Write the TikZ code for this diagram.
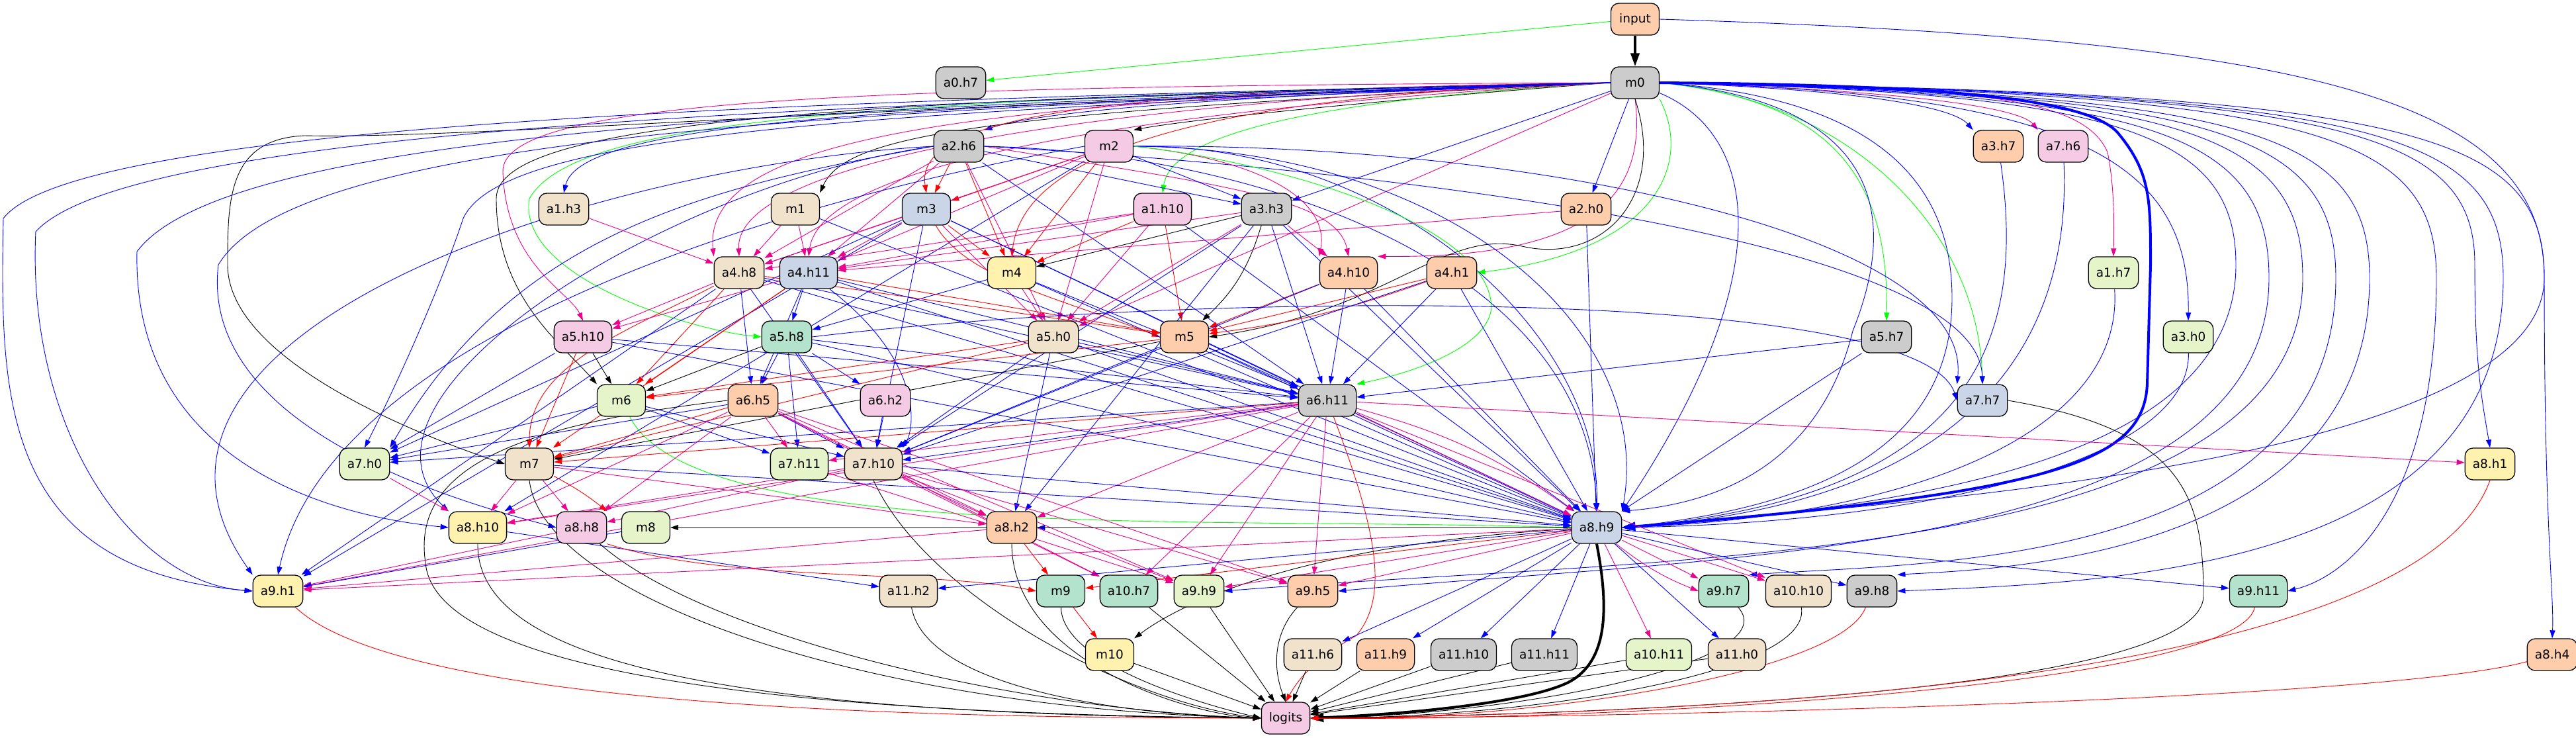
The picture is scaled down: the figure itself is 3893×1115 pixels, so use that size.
\documentclass[tikz,border=0pt]{standalone}
\usepackage{fontspec}
\setmainfont{DejaVu Sans}
\usetikzlibrary{arrows.meta}
\pgfdeclarelayer{bg}
\pgfsetlayers{bg,main}
\definecolor{cG}{HTML}{CCCCCC}
\definecolor{cP}{HTML}{FDCDAC}
\definecolor{cB}{HTML}{CBD5E8}
\definecolor{cK}{HTML}{F4CAE4}
\definecolor{cL}{HTML}{E6F5C9}
\definecolor{cY}{HTML}{FFF2AE}
\definecolor{cT}{HTML}{F1E2CC}
\definecolor{cM}{HTML}{B3E2CD}
\newcommand\edg[3]{\draw[#1] (#2) -- (#3);}
\tikzset{
  nd/.style={draw=black, line width=1.3pt, rounded corners=12pt, minimum width=73pt, minimum height=48pt, inner xsep=11.5pt, inner ysep=0pt, font=\fontsize{18.5}{22}\selectfont},
  ed/.style={line width=0.9pt, -{Triangle[length=12pt,width=8pt]}},
  eb/.style={ed, draw=blue}, em/.style={ed, draw=magenta}, er/.style={ed, draw=red},
  eg/.style={ed, draw=green}, ek/.style={ed, draw=black},
  thk/.style={line width=4pt, -{Triangle[length=20pt,width=13pt]}}
}
\begin{document}
\begin{tikzpicture}[x=1pt,y=-1pt]
\useasboundingbox (0,0) rectangle (3893,1115);
\node[nd,fill=cP] (input) at (2471,29) {input};
\node[nd,fill=cG] (m0) at (2471,125) {m0};
\node[nd,fill=cG] (a0h7) at (1452,125) {a0.h7};
\node[nd,fill=cG] (a2h6) at (1449,221) {a2.h6};
\node[nd,fill=cK] (m2) at (1676,221) {m2};
\node[nd,fill=cP] (a3h7) at (3020,221) {a3.h7};
\node[nd,fill=cK] (a7h6) at (3118,221) {a7.h6};
\node[nd,fill=cT] (a1h3) at (852,316) {a1.h3};
\node[nd,fill=cT] (m1) at (1202,316) {m1};
\node[nd,fill=cB] (m3) at (1400,316) {m3};
\node[nd,fill=cK] (a1h10) at (1757,316) {a1.h10};
\node[nd,fill=cG] (a3h3) at (1914,316) {a3.h3};
\node[nd,fill=cP] (a2h0) at (2397,316) {a2.h0};
\node[nd,fill=cT] (a4h8) at (1117,412) {a4.h8};
\node[nd,fill=cB] (a4h11) at (1222,412) {a4.h11};
\node[nd,fill=cY] (m4) at (1529,412) {m4};
\node[nd,fill=cP] (a4h10) at (2038,412) {a4.h10};
\node[nd,fill=cP] (a4h1) at (2194,412) {a4.h1};
\node[nd,fill=cL] (a1h7) at (3194,412) {a1.h7};
\node[nd,fill=cK] (a5h10) at (881,509) {a5.h10};
\node[nd,fill=cM] (a5h8) at (1189,509) {a5.h8};
\node[nd,fill=cT] (a5h0) at (1592,509) {a5.h0};
\node[nd,fill=cP] (m5) at (1790,509) {m5};
\node[nd,fill=cG] (a5h7) at (2851,509) {a5.h7};
\node[nd,fill=cL] (a3h0) at (3307,509) {a3.h0};
\node[nd,fill=cL] (m6) at (939,605) {m6};
\node[nd,fill=cP] (a6h5) at (1138,605) {a6.h5};
\node[nd,fill=cK] (a6h2) at (1338,605) {a6.h2};
\node[nd,fill=cG] (a6h11) at (2006,605) {a6.h11};
\node[nd,fill=cB] (a7h7) at (2996,605) {a7.h7};
\node[nd,fill=cL] (a7h0) at (551,701) {a7.h0};
\node[nd,fill=cT] (m7) at (800,701) {m7};
\node[nd,fill=cL] (a7h11) at (1208,701) {a7.h11};
\node[nd,fill=cT] (a7h10) at (1320,701) {a7.h10};
\node[nd,fill=cY] (a8h1) at (3763,701) {a8.h1};
\node[nd,fill=cY] (a8h10) at (722,797) {a8.h10};
\node[nd,fill=cK] (a8h8) at (879,797) {a8.h8};
\node[nd,fill=cL] (m8) at (976,797) {m8};
\node[nd,fill=cP] (a8h2) at (1529,797) {a8.h2};
\node[nd,fill=cB] (a8h9) at (2413,797) {a8.h9};
\node[nd,fill=cY] (a9h1) at (420,893) {a9.h1};
\node[nd,fill=cT] (a11h2) at (1373,893) {a11.h2};
\node[nd,fill=cM] (m9) at (1603,893) {m9};
\node[nd,fill=cM] (a10h7) at (1706,893) {a10.h7};
\node[nd,fill=cL] (a9h9) at (1812,893) {a9.h9};
\node[nd,fill=cP] (a9h5) at (1984,893) {a9.h5};
\node[nd,fill=cM] (a9h7) at (2605,893) {a9.h7};
\node[nd,fill=cT] (a10h10) at (2718,893) {a10.h10};
\node[nd,fill=cG] (a9h8) at (2829,893) {a9.h8};
\node[nd,fill=cM] (a9h11) at (3413,893) {a9.h11};
\node[nd,fill=cY] (m10) at (1677,989) {m10};
\node[nd,fill=cT] (a11h6) at (1984,989) {a11.h6};
\node[nd,fill=cP] (a11h9) at (2094,989) {a11.h9};
\node[nd,fill=cG] (a11h10) at (2212,989) {a11.h10};
\node[nd,fill=cG] (a11h11) at (2334,989) {a11.h11};
\node[nd,fill=cL] (a10h11) at (2507,989) {a10.h11};
\node[nd,fill=cT] (a11h0) at (2625,989) {a11.h0};
\node[nd,fill=cP] (a8h4) at (3857,989) {a8.h4};
\node[nd,fill=cK] (logits) at (1943,1085) {logits};

\begin{pgfonlayer}{bg}
\fill[white] (0,0) rectangle (3893,1115);
% input
\draw[ek,thk] (input) -- (m0);
\edg{eg}{input}{a0h7}
\draw[eb] (input.east) .. controls (3500,60) and (3845,150) .. (3845,420) .. controls (3845,720) and (2700,770) .. (a8h9.east);
% m0 to the left
\draw[eb] (m0.west) .. controls (2000,140) and (1600,160) .. (a2h6.north east);
\draw[ek] (m0.west) .. controls (2100,150) and (1800,180) .. (m2.north east);
\draw[eb] (m0.west) .. controls (1500,160) and (880,170) .. (a1h3.north);
\draw[ek] (m0.west) .. controls (1500,170) and (1280,200) .. (m1.north east);
\draw[er] (m0.west) .. controls (1700,135) and (1380,170) .. (m3.north);
\draw[eg] (m0.west) .. controls (2000,150) and (1770,200) .. (a1h10.north);
\edg{eb}{m0}{a3h3}
\edg{eb}{m0}{a2h0}
\draw[er] (m0.west) .. controls (1750,145) and (1545,250) .. (m4.north);
\draw[em] (m0.west) .. controls (1500,150) and (1060,200) .. (a4h8.north west);
\draw[em] (m0.west) .. controls (1600,155) and (1110,250) .. (a4h8.north);
\draw[em] (m0.west) .. controls (1700,165) and (1240,250) .. (a4h11.north);
\draw[em] (m0.south) .. controls (2490,300) and (2400,390) .. (a4h10.north east);
\draw[eg] (m0.south east) .. controls (2560,250) and (2500,380) .. (a4h1.east);
\draw[ek] (m0.south) .. controls (2520,300) and (2420,400) .. (2300,372) .. controls (2180,345) and (2100,470) .. (m5.east);
\draw[em] (m0.west) .. controls (1300,130) and (755,150) .. (760,260) .. controls (765,400) and (860,440) .. (a5h10.north);
\draw[eg] (m0.west) .. controls (1300,150) and (870,180) .. (800,300) .. controls (780,420) and (1050,500) .. (a5h8.west);
\edg{em}{m0}{a5h0}
\draw[ek] (m0.west) .. controls (1300,150) and (750,180) .. (750,300) .. controls (750,450) and (850,520) .. (m6.north west);
\draw[ek] (m0.west) .. controls (1300,160) and (700,210) .. (460,205) .. controls (345,210) and (344,300) .. (344,400) .. controls (344,560) and (700,680) .. (m7.west);
\draw[eb] (m0.west) .. controls (1300,170) and (760,200) .. (700,330) .. controls (660,450) and (590,600) .. (a7h0.north);
\draw[eb] (m0.west) .. controls (1300,150) and (120,180) .. (5,330) .. controls (0,600) and (0,860) .. (a9h1.west);
\draw[eb] (m0.west) .. controls (1300,155) and (200,190) .. (54,350) .. controls (40,650) and (200,880) .. (a9h1.west);
\draw[eb] (m0.west) .. controls (1300,160) and (350,190) .. (207,380) .. controls (200,700) and (500,780) .. (a8h10.west);
\draw[eb] (m0.west) .. controls (1300,165) and (450,200) .. (330,400) .. controls (300,650) and (700,760) .. (a8h8.west);
% m0 to the right
\draw[eb] (m0.east) .. controls (2800,135) and (2950,160) .. (a3h7.north west);
\draw[em] (m0.east) .. controls (2850,135) and (3050,160) .. (a7h6.north west);
\draw[em] (m0.east) .. controls (3000,130) and (3150,150) .. (3185,230) .. controls (3195,280) and (3195,330) .. (a1h7.north);
\draw[eg] (m0.east) .. controls (2750,150) and (2855,250) .. (a5h7.north);
\draw[eg] (m0.east) .. controls (2800,150) and (2990,350) .. (a7h7.north);
\draw[eb] (m0.east) .. controls (3150,140) and (3310,250) .. (a3h0.north);
\draw[eb,thk] (m0.east) .. controls (2900,128) and (3150,145) .. (3200,200) .. controls (3250,260) and (3250,300) .. (3250,400) -- (3245,580) .. controls (3240,700) and (3100,745) .. (a8h9.east);
\draw[eb] (m0.east) .. controls (3200,140) and (3379,200) .. (3379,400) .. controls (3379,720) and (2800,770) .. (a8h9.east);
\draw[eb] (m0.east) .. controls (2800,145) and (2950,250) .. (2950,450) .. controls (2950,700) and (2700,770) .. (a8h9.east);
\draw[eb] (m0.east) .. controls (2750,145) and (2900,250) .. (2800,500) .. controls (2750,700) and (2600,760) .. (a8h9.north east);
\draw[eb] (m0) .. controls (2650,200) and (2700,400) .. (a8h9.north east);
\draw[eb] (m0.east) .. controls (3250,140) and (3429,200) .. (3429,420) .. controls (3429,840) and (2600,840) .. (a9h5.east);
\draw[eb] (m0.east) .. controls (3300,140) and (3480,200) .. (3480,420) .. controls (3480,860) and (2500,840) .. (a9h9.east);
\draw[eb] (m0.east) .. controls (3350,140) and (3530,200) .. (3530,420) .. controls (3530,860) and (2900,850) .. (a9h7.north east);
\draw[eb] (m0.east) .. controls (3400,140) and (3581,200) .. (3581,420) .. controls (3581,850) and (3000,860) .. (a9h8.north east);
\draw[eb] (m0.east) .. controls (3600,140) and (3783,200) .. (3783,420) .. controls (3783,860) and (3200,880) .. (a9h8.east);
\draw[eb] (m0.east) .. controls (3500,140) and (3682,200) .. (3682,420) .. controls (3682,760) and (3550,870) .. (a9h11.east);
\draw[eb] (m0.east) .. controls (3550,140) and (3740,200) .. (3740,400) .. controls (3740,550) and (3750,600) .. (a8h1.north);
\draw[eb] (m0.east) .. controls (3650,140) and (3845,200) .. (3845,420) .. controls (3845,800) and (3860,900) .. (a8h4.north);
% a2.h6
\edg{er}{a2h6}{m3}
\edg{er}{a2h6}{m4}
\edg{eb}{a2h6}{a3h3}
\draw[em] (a2h6.east) .. controls (1850,280) and (2020,300) .. (a4h10.north);
\edg{em}{a2h6}{a4h8}
\edg{em}{a2h6}{a4h11}
\edg{em}{a2h6}{a5h0}
\draw[eb] (a2h6.east) .. controls (1900,230) and (2400,400) .. (a8h9.north);
\draw[eb] (a2h6.west) .. controls (900,250) and (120,500) .. (a9h1.north west);
\draw[eb] (a2h6.west) .. controls (1000,280) and (500,600) .. (a8h10.north west);
\draw[eb] (a2h6.west) to[out=190,in=60] (a7h0.north east);
\edg{eb}{a2h6}{a6h11}
\draw[eb] (a2h6.east) .. controls (2000,250) and (2990,350) .. (a7h7.north);
% m2
\edg{er}{m2}{m3}
\edg{er}{m2}{m4}
\edg{eb}{m2}{a3h3}
\draw[em] (m2.east) .. controls (1900,240) and (2010,300) .. (a4h10.north west);
\edg{em}{m2}{a5h0}
\edg{em}{m2}{a4h8}
\edg{em}{m2}{a4h11}
\draw[eb] (m2.east) .. controls (2100,215) and (2420,500) .. (a8h9.north);
\draw[eb] (m2.east) .. controls (2200,225) and (2500,500) .. (a8h9.north east);
\draw[eb] (m2.east) .. controls (2300,215) and (2980,350) .. (a7h7.north west);
\draw[eg] (m2.east) .. controls (1900,240) and (2250,330) .. (2254,464) .. controls (2250,520) and (2150,560) .. (a6h11.north east);
\draw[eb] (m2.west) .. controls (1200,300) and (500,500) .. (a9h1.north);
\edg{eb}{m2}{a8h10}
% m3
\edg{er}{m3}{m4}
\draw[er] (m3) .. controls (1460,420) and (1600,450) .. (m5.west);
\edg{em}{m3}{a5h0}
\edg{em}{m3}{a4h8}
\edg{em}{m3}{a4h11}
\edg{eb}{m3}{a8h9}
\edg{eb}{m3}{a6h11}
\edg{eb}{m3}{a9h1}
\edg{eb}{m3}{a7h0}
\edg{eb}{m3}{a7h10}
% m1, a1.h3, a1.h10
\edg{em}{m1}{a4h8}
\edg{em}{m1}{a4h11}
\edg{eb}{m1}{a8h9}
\edg{em}{a1h3}{a4h8}
\edg{er}{a1h10}{m4}
\edg{er}{a1h10}{m5}
\edg{em}{a1h10}{a5h0}
\edg{em}{a1h10}{a4h8}
\edg{em}{a1h10}{a4h11}
\edg{eb}{a1h10}{a8h9}
% a3.h3
\edg{ek}{a3h3}{m4}
\draw[ek] (a3h3) to[bend left=15] (m5);
\edg{em}{a3h3}{a4h10}
\edg{em}{a3h3}{a5h0}
\edg{eb}{a3h3}{a6h11}
\edg{eb}{a3h3}{a8h9}
\edg{em}{a3h3}{a4h11}
\edg{eb}{a3h3}{a8h2}
\edg{eb}{a3h3}{a7h10}
% a2.h0, m4
\edg{eb}{a2h0}{a8h9}
\edg{em}{a2h0}{a4h11}
\edg{em}{m4}{a5h0}
\edg{eb}{m4}{a5h8}
\edg{eb}{m4}{a8h9}
\edg{eb}{m4}{a6h11}
% a4.h8
\edg{em}{a4h8}{a5h10}
\edg{er}{a4h8}{m6}
\draw[er] (a4h8) .. controls (950,500) and (800,550) .. (m7.north);
\edg{eb}{a4h8}{a6h5}
\edg{eb}{a4h8}{a7h10}
\edg{eb}{a4h8}{a8h9}
\edg{eb}{a4h8}{a6h11}
\edg{eb}{a4h8}{a9h1}
\edg{er}{a4h8}{m5}
% a4.h11
\edg{em}{a4h11}{a5h10}
\edg{er}{a4h11}{m6}
\edg{eb}{a4h11}{a6h5}
\draw[eb] (a4h11) .. controls (1400,550) and (1380,650) .. (a7h10.north east);
\edg{eb}{a4h11}{a8h9}
\edg{er}{a4h11}{m5}
\edg{eb}{a4h11}{a5h8}
\edg{eb}{a4h11}{a6h11}
\edg{er}{a4h11}{m7}
% a4.h10, a4.h1
\edg{er}{a4h10}{m5}
\edg{eb}{a4h10}{a6h11}
\edg{eb}{a4h10}{a8h9}
\edg{eb}{a4h10}{a7h10}
\edg{er}{a4h1}{m5}
\draw[er] (a4h1) to[bend left=6] (m5);
\edg{eb}{a4h1}{a6h11}
\edg{eb}{a4h1}{a8h9}
\edg{eb}{a4h1}{a7h10}
% right column to a8.h9
\draw[eb] (a3h7) .. controls (3060,500) and (3000,750) .. (a8h9.east);
\draw[eb] (a7h6) .. controls (3130,500) and (3000,760) .. (a8h9.east);
\draw[eb] (a1h7) .. controls (3210,650) and (2900,780) .. (a8h9.east);
\draw[eb] (a3h0) .. controls (3310,700) and (2900,790) .. (a8h9.east);
% a5 row
\edg{ek}{a5h10}{m6}
\edg{er}{a5h10}{m7}
\edg{eb}{a5h10}{a7h0}
\edg{eb}{a5h10}{a6h11}
\edg{eb}{a5h10}{a8h9}
\edg{ek}{a5h8}{m6}
\edg{eb}{a5h8}{a6h5}
\edg{eb}{a5h8}{a6h2}
\edg{eb}{a5h8}{a7h11}
\edg{eb}{a5h8}{a7h10}
\draw[eb] (a5h8.east) .. controls (1800,440) and (2900,430) .. (a7h7.west);
\edg{eb}{a5h8}{a8h9}
\edg{eb}{a5h8}{a6h11}
\edg{eb}{a5h0}{a6h11}
\edg{eb}{a5h0}{a8h2}
\edg{eb}{a5h0}{a7h10}
\edg{eb}{a5h0}{a8h9}
\edg{er}{a5h0}{m6}
\edg{er}{a5h0}{m7}
\edg{er}{m5}{m6}
\edg{ek}{m5}{m7}
\edg{eb}{m5}{a6h11}
\edg{eb}{m5}{a8h9}
\edg{eb}{m5}{a7h10}
\edg{eb}{a5h7}{a6h11}
\edg{eb}{a5h7}{a8h9}
% a6 row
\edg{eb}{m6}{a7h0}
\edg{eb}{m6}{a7h11}
\edg{eb}{m6}{a7h10}
\draw[eg] (m6) .. controls (1050,820) and (1800,780) .. (a8h9.west);
\edg{er}{a6h5}{m7}
\edg{em}{a6h5}{a7h11}
\edg{eb}{a6h5}{a7h10}
\edg{em}{a6h5}{a8h8}
\edg{em}{a6h5}{a8h10}
\edg{em}{a6h5}{a8h2}
\edg{em}{a6h5}{a9h9}
\edg{em}{a6h5}{a10h7}
\edg{em}{a6h5}{a9h5}
\edg{eb}{a6h5}{a7h0}
\draw[ek] (a6h5.west) .. controls (800,640) and (620,700) .. (643,850) .. controls (660,1060) and (1500,1080) .. (logits.west);
\edg{eb}{a6h2}{a7h10}
\edg{eb}{a6h11}{a7h10}
\edg{eb}{a6h11}{a7h0}
\edg{er}{a6h11}{m7}
\edg{em}{a6h11}{a8h10}
\edg{em}{a6h11}{a8h2}
\edg{em}{a6h11}{a8h9}
\draw[em] (a6h11) to[bend left=10] (a8h9);
\edg{em}{a6h11}{a9h5}
\edg{em}{a6h11}{a9h9}
\edg{em}{a6h11}{a10h7}
\edg{em}{a6h11}{a10h10}
\edg{em}{a6h11}{a8h1}
\edg{em}{a6h11}{a9h1}
\edg{em}{a6h11}{a7h11}
\draw[er] (a6h11) .. controls (2080,800) and (2100,900) .. (2050,960) .. controls (1980,1000) and (1960,1030) .. (logits.north);
\draw[ek] (a7h7.east) .. controls (3300,650) and (3330,750) .. (3330,900) .. controls (3330,1050) and (2400,1080) .. (logits.east);
% a7 row
\edg{em}{a7h0}{a8h10}
\edg{em}{m7}{a8h10}
\edg{em}{m7}{a8h8}
\draw[er] (m7) to[bend left=5] (a8h8.north east);
\draw[ek] (m7.south) .. controls (820,900) and (1300,1070) .. (logits.west);
\edg{eb}{m7}{a8h9}
\edg{em}{m7}{a8h2}
\edg{em}{a7h11}{a9h9}
\edg{em}{a7h10}{a8h2}
\edg{em}{a7h10}{a10h7}
\edg{em}{a7h10}{a9h9}
\edg{em}{a7h10}{a8h10}
\draw[ek] (a7h10.south) .. controls (1400,900) and (1700,1060) .. (logits.west);
\edg{eb}{a7h10}{a8h9}
\edg{em}{a7h10}{a9h5}
\edg{em}{a7h10}{a8h8}
\draw[er] (a8h1.south) .. controls (3700,900) and (3300,1070) .. (logits.east);
% a8 row
\draw[ek] (a8h10.south) .. controls (720,1000) and (1100,1080) .. (logits.west);
\edg{eb}{a8h10}{a11h2}
\edg{em}{a8h8}{a9h1}
\draw[ek] (a8h8) .. controls (1050,950) and (1500,1070) .. (logits.west);
\draw[er] (a8h8.south east) .. controls (1100,880) and (1400,860) .. (m9.west);
\edg{eb}{m8}{a9h1}
\edg{er}{a8h2}{m9}
\draw[ek] (a8h2.south) .. controls (1530,1000) and (1800,1080) .. (logits.west);
\edg{em}{a8h2}{a9h1}
\edg{eb}{a8h9}{a8h2}
\edg{ek}{a8h9}{m8}
\draw[ek] (a8h9) .. controls (2000,820) and (1800,900) .. (m10.north east);
\draw[ek,thk] (a8h9.south) .. controls (2432,920) and (2430,1000) .. (2370,1031) .. controls (2300,1065) and (2100,1080) .. (logits.east);
\edg{eb}{a8h9}{a11h2}
\edg{er}{a8h9}{m9}
\edg{em}{a8h9}{a9h9}
\edg{em}{a8h9}{a9h5}
\edg{em}{a8h9}{a9h7}
\draw[em] (a8h9) to[bend right=8] (a9h7.west);
\edg{em}{a8h9}{a10h10}
\edg{eb}{a8h9}{a9h8}
\edg{eb}{a8h9}{a9h11}
\edg{eb}{a8h9}{a11h6}
\edg{eb}{a8h9}{a11h9}
\edg{eb}{a8h9}{a11h10}
\edg{eb}{a8h9}{a11h11}
\edg{em}{a8h9}{a10h11}
\edg{eb}{a8h9}{a11h0}
\edg{em}{a8h9}{a9h1}
% a9 row to logits
\draw[er] (a9h1) .. controls (600,1060) and (1300,1085) .. (logits.west);
\draw[ek] (a11h2) .. controls (1400,1040) and (1700,1080) .. (logits.west);
\draw[ek] (m9) .. controls (1605,1000) and (1800,1060) .. (logits.west);
\edg{ek}{a10h7}{logits}
\edg{ek}{a9h9}{logits}
\draw[ek] (a9h5) .. controls (1930,950) and (1920,1000) .. (logits.north);
\draw[ek] (a9h7) .. controls (2700,1000) and (2300,1080) .. (logits.east);
\draw[ek] (a10h10) .. controls (2740,1020) and (2300,1085) .. (logits.east);
\draw[er] (a9h8) .. controls (2780,1020) and (2300,1090) .. (logits.east);
\draw[er] (a9h11) .. controls (3380,1040) and (2400,1090) .. (logits.east);
\edg{er}{m9}{m10}
\edg{ek}{m10}{logits}
\edg{ek}{a11h6}{logits}
\edg{ek}{a11h9}{logits}
\edg{ek}{a11h10}{logits}
\edg{ek}{a11h11}{logits}
\edg{ek}{a10h11}{logits}
\edg{ek}{a11h0}{logits}
\draw[er] (a8h4) .. controls (3600,1060) and (2400,1085) .. (logits.east);
\end{pgfonlayer}
\end{tikzpicture}
\end{document}
